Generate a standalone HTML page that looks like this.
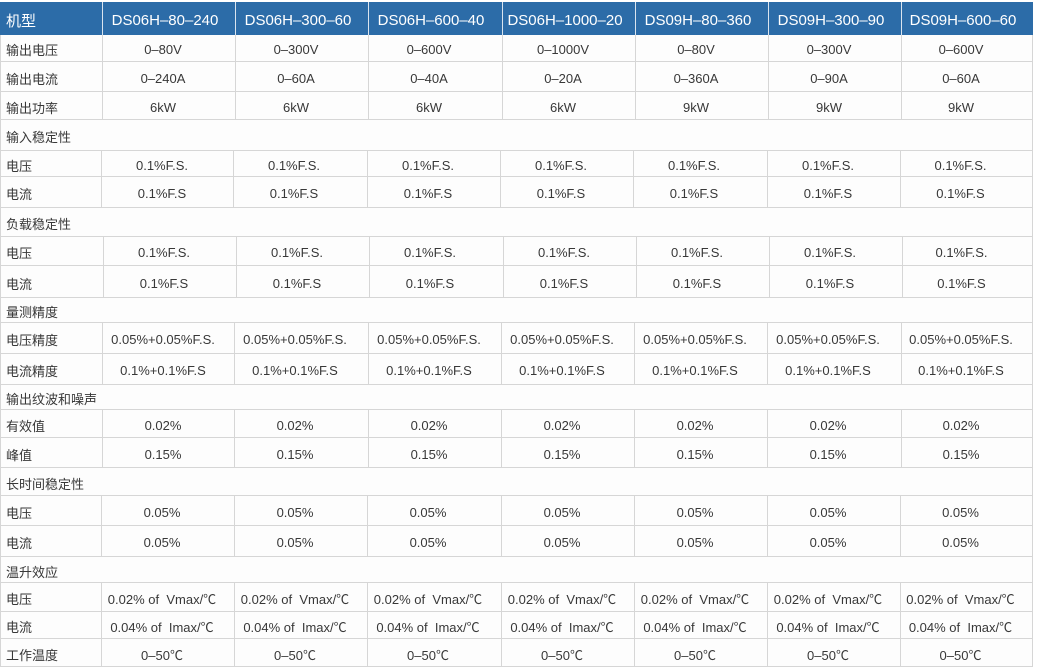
<!DOCTYPE html>
<html>
<head>
<meta charset="utf-8">
<style>
html,body{margin:0;padding:0;background:#ffffff;}
body{width:1037px;height:670px;position:relative;overflow:hidden;font-family:"Liberation Sans","Noto Sans CJK SC",sans-serif;color:#383838;font-size:13px;}
.r{position:absolute;left:0;width:1033px;box-sizing:border-box;border:1px solid #d6d6d6;border-top:none;background:#fdfdfd;}
.l{position:absolute;left:5px;top:0;bottom:0;display:flex;align-items:center;white-space:nowrap;padding-top:3px;box-sizing:border-box;}
.c{position:absolute;top:0;bottom:0;width:133px;box-sizing:border-box;border-left:1px solid #d6d6d6;display:flex;align-items:center;justify-content:center;padding-right:12px;padding-top:3px;white-space:nowrap;}
.h{position:absolute;left:0;top:2px;height:33px;width:1033px;box-sizing:border-box;background:#2c6ca8;border-left:1px solid #2c6ca8;border-right:1px solid #2c6ca8;color:#ffffff;font-size:15px;}
.h .c{border-left:1px solid #d9e4ef;padding-right:8px;}
.h .l{left:5px;}
.A>.c:nth-child(2){left:101px}.A>.c:nth-child(3){left:234px}.A>.c:nth-child(4){left:367px}.A>.c:nth-child(5){left:501px}.A>.c:nth-child(6){left:634px}.A>.c:nth-child(7){left:767px}.A>.c:nth-child(8){left:900px;right:0;width:auto}
.B>.c:nth-child(2){left:100px}.B>.c:nth-child(3){left:232px}.B>.c:nth-child(4){left:366px}.B>.c:nth-child(5){left:499px}.B>.c:nth-child(6){left:632px}.B>.c:nth-child(7){left:766px}.B>.c:nth-child(8){left:899px;right:0;width:auto}
.C>.c:nth-child(2){left:102px}.C>.c:nth-child(3){left:235px}.C>.c:nth-child(4){left:368px}.C>.c:nth-child(5){left:502px}.C>.c:nth-child(6){left:635px}.C>.c:nth-child(7){left:768px}.C>.c:nth-child(8){left:901px;right:0;width:auto}
.D>.c:nth-child(2){left:101px}.D>.c:nth-child(3){left:233px}.D>.c:nth-child(4){left:367px}.D>.c:nth-child(5){left:500px}.D>.c:nth-child(6){left:633px}.D>.c:nth-child(7){left:766px}.D>.c:nth-child(8){left:900px;right:0;width:auto}
.E>.c:nth-child(2){left:100px}.E>.c:nth-child(3){left:233px}.E>.c:nth-child(4){left:366px}.E>.c:nth-child(5){left:500px}.E>.c:nth-child(6){left:633px}.E>.c:nth-child(7){left:766px}.E>.c:nth-child(8){left:899px;right:0;width:auto}
</style>
</head>
<body>

<div class="h A"><span class="l">机型</span><div class="c">DS06H–80–240</div><div class="c">DS06H–300–60</div><div class="c">DS06H–600–40</div><div class="c">DS06H–1000–20</div><div class="c">DS09H–80–360</div><div class="c">DS09H–300–90</div><div class="c">DS09H–600–60</div></div>

<div class="r A" style="top:35px;height:27px"><span class="l">输出电压</span><div class="c">0–80V</div><div class="c">0–300V</div><div class="c">0–600V</div><div class="c">0–1000V</div><div class="c">0–80V</div><div class="c">0–300V</div><div class="c">0–600V</div></div>
<div class="r A" style="top:62px;height:30px"><span class="l">输出电流</span><div class="c">0–240A</div><div class="c">0–60A</div><div class="c">0–40A</div><div class="c">0–20A</div><div class="c">0–360A</div><div class="c">0–90A</div><div class="c">0–60A</div></div>
<div class="r A" style="top:92px;height:28px"><span class="l">输出功率</span><div class="c">6kW</div><div class="c">6kW</div><div class="c">6kW</div><div class="c">6kW</div><div class="c">9kW</div><div class="c">9kW</div><div class="c">9kW</div></div>

<div class="r" style="top:120px;height:31px"><span class="l">输入稳定性</span></div>
<div class="r B" style="top:151px;height:26px"><span class="l">电压</span><div class="c">0.1%F.S.</div><div class="c">0.1%F.S.</div><div class="c">0.1%F.S.</div><div class="c">0.1%F.S.</div><div class="c">0.1%F.S.</div><div class="c">0.1%F.S.</div><div class="c">0.1%F.S.</div></div>
<div class="r B" style="top:177px;height:31px"><span class="l">电流</span><div class="c">0.1%F.S</div><div class="c">0.1%F.S</div><div class="c">0.1%F.S</div><div class="c">0.1%F.S</div><div class="c">0.1%F.S</div><div class="c">0.1%F.S</div><div class="c">0.1%F.S</div></div>

<div class="r" style="top:208px;height:29px"><span class="l">负载稳定性</span></div>
<div class="r C" style="top:237px;height:29px"><span class="l">电压</span><div class="c">0.1%F.S.</div><div class="c">0.1%F.S.</div><div class="c">0.1%F.S.</div><div class="c">0.1%F.S.</div><div class="c">0.1%F.S.</div><div class="c">0.1%F.S.</div><div class="c">0.1%F.S.</div></div>
<div class="r C" style="top:266px;height:32px"><span class="l">电流</span><div class="c">0.1%F.S</div><div class="c">0.1%F.S</div><div class="c">0.1%F.S</div><div class="c">0.1%F.S</div><div class="c">0.1%F.S</div><div class="c">0.1%F.S</div><div class="c">0.1%F.S</div></div>

<div class="r" style="top:298px;height:25px"><span class="l">量测精度</span></div>
<div class="r D" style="top:323px;height:31px"><span class="l">电压精度</span><div class="c">0.05%+0.05%F.S.</div><div class="c">0.05%+0.05%F.S.</div><div class="c">0.05%+0.05%F.S.</div><div class="c">0.05%+0.05%F.S.</div><div class="c">0.05%+0.05%F.S.</div><div class="c">0.05%+0.05%F.S.</div><div class="c">0.05%+0.05%F.S.</div></div>
<div class="r D" style="top:354px;height:31px"><span class="l">电流精度</span><div class="c">0.1%+0.1%F.S</div><div class="c">0.1%+0.1%F.S</div><div class="c">0.1%+0.1%F.S</div><div class="c">0.1%+0.1%F.S</div><div class="c">0.1%+0.1%F.S</div><div class="c">0.1%+0.1%F.S</div><div class="c">0.1%+0.1%F.S</div></div>

<div class="r" style="top:385px;height:25px"><span class="l">输出纹波和噪声</span></div>
<div class="r D" style="top:410px;height:28px"><span class="l">有效值</span><div class="c">0.02%</div><div class="c">0.02%</div><div class="c">0.02%</div><div class="c">0.02%</div><div class="c">0.02%</div><div class="c">0.02%</div><div class="c">0.02%</div></div>
<div class="r D" style="top:438px;height:30px"><span class="l">峰值</span><div class="c">0.15%</div><div class="c">0.15%</div><div class="c">0.15%</div><div class="c">0.15%</div><div class="c">0.15%</div><div class="c">0.15%</div><div class="c">0.15%</div></div>

<div class="r" style="top:468px;height:28px"><span class="l">长时间稳定性</span></div>
<div class="r E" style="top:496px;height:30px"><span class="l">电压</span><div class="c">0.05%</div><div class="c">0.05%</div><div class="c">0.05%</div><div class="c">0.05%</div><div class="c">0.05%</div><div class="c">0.05%</div><div class="c">0.05%</div></div>
<div class="r E" style="top:526px;height:31px"><span class="l">电流</span><div class="c">0.05%</div><div class="c">0.05%</div><div class="c">0.05%</div><div class="c">0.05%</div><div class="c">0.05%</div><div class="c">0.05%</div><div class="c">0.05%</div></div>

<div class="r" style="top:557px;height:26px"><span class="l">温升效应</span></div>
<div class="r E" style="top:583px;height:29px"><span class="l">电压</span><div class="c">0.02% of&nbsp; Vmax/℃</div><div class="c">0.02% of&nbsp; Vmax/℃</div><div class="c">0.02% of&nbsp; Vmax/℃</div><div class="c">0.02% of&nbsp; Vmax/℃</div><div class="c">0.02% of&nbsp; Vmax/℃</div><div class="c">0.02% of&nbsp; Vmax/℃</div><div class="c">0.02% of&nbsp; Vmax/℃</div></div>
<div class="r E" style="top:612px;height:27px"><span class="l">电流</span><div class="c">0.04% of&nbsp; Imax/℃</div><div class="c">0.04% of&nbsp; Imax/℃</div><div class="c">0.04% of&nbsp; Imax/℃</div><div class="c">0.04% of&nbsp; Imax/℃</div><div class="c">0.04% of&nbsp; Imax/℃</div><div class="c">0.04% of&nbsp; Imax/℃</div><div class="c">0.04% of&nbsp; Imax/℃</div></div>
<div class="r E" style="top:639px;height:28px"><span class="l">工作温度</span><div class="c">0–50℃</div><div class="c">0–50℃</div><div class="c">0–50℃</div><div class="c">0–50℃</div><div class="c">0–50℃</div><div class="c">0–50℃</div><div class="c">0–50℃</div></div>

</body>
</html>
